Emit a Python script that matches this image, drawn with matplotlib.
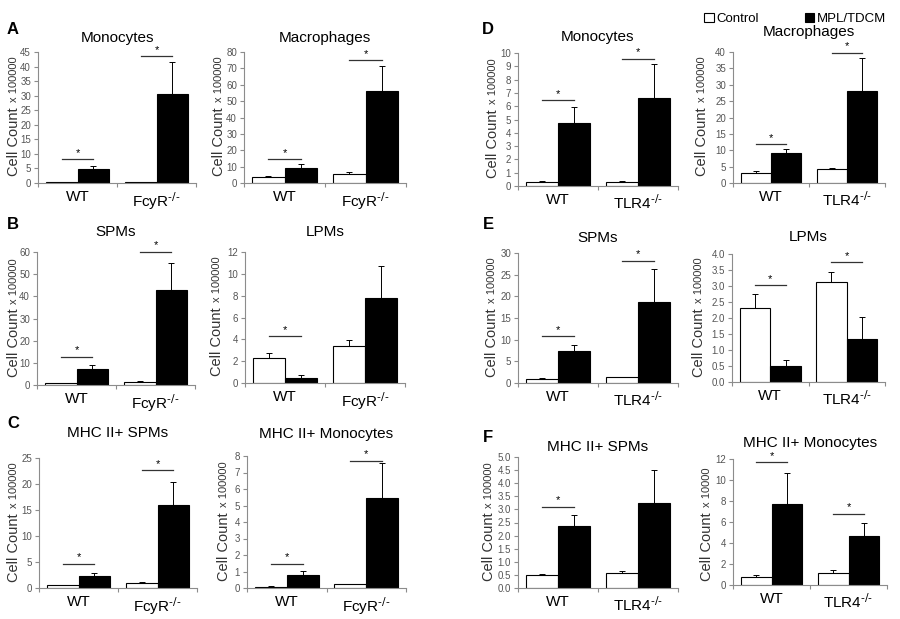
import matplotlib
matplotlib.use("Agg")
import matplotlib.pyplot as plt
import numpy as np

plt.rcParams['font.family'] = ['Liberation Sans', 'DejaVu Sans']

W, H = 900, 619

# panel data: title, genotype, y max, y step, control, control sd, treated, treated sd, significance bars
titles = ['Monocytes', 'Macrophages', 'Monocytes', 'Macrophages',
          'SPMs', 'LPMs', 'SPMs', 'LPMs',
          'MHC II+ SPMs', 'MHC II+ Monocytes', 'MHC II+ SPMs', 'MHC II+ Monocytes']
knockout = ['FcyR', 'FcyR', 'TLR4', 'TLR4'] * 3
y_max = [45, 80, 10, 40, 60, 12, 30, 4.0, 25, 8, 5.0, 12]
y_step = [5, 10, 1, 5, 10, 2, 5, 0.5, 5, 1, 0.5, 2]
units = ['x 100000'] * 11 + ['x 10000']

ctrl = [[0.3, 0.35], [3.7, 5.5], [0.3, 0.3], [3.2, 4.3],
        [0.7, 1.5], [2.3, 3.36], [1.0, 1.3], [2.3, 3.11],
        [0.5, 1.0], [0.07, 0.22], [0.5, 0.58], [0.76, 1.1]]
ctrl_sd = [[0.05, 0.05], [0.6, 1.0], [0.08, 0.08], [0.4, 0.4],
           [0.2, 0.3], [0.45, 0.6], [0.1, 0.15], [0.44, 0.34],
           [0.05, 0.2], [0.03, 0.03], [0.04, 0.06], [0.24, 0.33]]
treat = [[4.7, 30.7], [9.3, 56.0], [4.77, 6.58], [9.2, 28.2],
         [7.2, 43.0], [0.46, 7.8], [7.4, 18.6], [0.5, 1.33],
         [2.36, 15.9], [0.76, 5.43], [2.36, 3.23], [7.7, 4.68]]
treat_sd = [[1.3, 10.7], [2.1, 15.7], [1.2, 2.6], [1.3, 10.0],
            [1.7, 12.0], [0.24, 2.9], [1.3, 7.7], [0.18, 0.71],
            [0.5, 4.5], [0.3, 2.17], [0.42, 1.26], [2.97, 1.22]]
sig = [[8.1, 43.5], [14.4, 75.0], [6.43, 9.57], [11.8, 39.8],
       [12.8, 60.0], [4.27, None], [10.8, 28.2], [3.02, 3.74],
       [4.6, 22.6], [1.45, 7.7], [3.1, None], [11.7, 6.78]]

# layout in pixels: left, right, top, bottom of each axes
boxes = [(38, 196, 52, 183), (244, 406, 52, 183), (518, 678, 53, 186), (733, 885, 52, 183),
         (37, 195, 252, 385), (245, 405, 252, 383), (518, 678, 253, 383), (732, 885, 254, 382),
         (39, 197, 458, 588), (247, 406, 456, 588), (518, 678, 457, 588), (733, 887, 459, 585)]
title_y = [38, 38, 37, 32, 232, 232, 238, 237, 433, 434, 447, 443]
ylab_x = [14, 219, 493, 702, 14, 217, 492, 699, 14, 224, 489, 707]
letters = [('A', 7, 30), ('B', 7, 225), ('C', 7, 423), ('D', 482, 30), ('E', 483, 225), ('F', 483, 437)]

axis_col = '#8c8c8c'
fig = plt.figure(figsize=(W / 100, H / 100), dpi=100)

for i in range(12):
    l, r, t, b = boxes[i]
    ax = fig.add_axes([l / W, 1 - b / H, (r - l) / W, (b - t) / H])
    x = np.arange(2) + 0.5
    bc = ax.bar(x - 0.2, ctrl[i], 0.4, color='white', edgecolor='black', linewidth=0.8, zorder=2)
    bt = ax.bar(x + 0.2, treat[i], 0.4, color='black', edgecolor='black', linewidth=0.8, zorder=2)
    ax.errorbar(x - 0.2, ctrl[i], yerr=[np.zeros(2), ctrl_sd[i]], fmt='none',
                ecolor='black', elinewidth=0.7, capsize=2, capthick=0.7, zorder=1)
    ax.errorbar(x + 0.2, treat[i], yerr=[np.zeros(2), treat_sd[i]], fmt='none',
                ecolor='black', elinewidth=0.7, capsize=2, capthick=0.7, zorder=1)
    for g in range(2):
        h = sig[i][g]
        if h is None:
            continue
        ax.plot([x[g] - 0.2, x[g] + 0.2], [h, h], color='#333333', lw=0.9, clip_on=False)
        ax.text(x[g], h + y_max[i] * 0.012, '*', ha='center', va='bottom', fontsize=8, clip_on=False)
    ax.set_xlim(0, 2)
    ax.set_ylim(0, y_max[i])
    ticks = np.arange(0, y_max[i] + y_step[i] / 2, y_step[i])
    ax.set_yticks(ticks)
    if y_step[i] < 1:
        ax.set_yticklabels(['%.1f' % v for v in ticks])
    ax.set_xticks([0, 1, 2])
    ax.set_xticklabels([])
    ax.set_xticks(x, minor=True)
    ax.set_xticklabels(['WT', knockout[i] + r'$^{\text{-/-}}$'], minor=True, fontsize=11)
    ax.tick_params(axis='x', which='minor', length=0, pad=5)
    ax.tick_params(axis='x', which='major', length=3, color=axis_col, width=0.8)
    ax.tick_params(axis='y', length=3, color=axis_col, width=0.8, labelsize=7,
                   labelcolor='#555555', pad=2)
    for s in ['top', 'right']:
        ax.spines[s].set_visible(False)
    for s in ['left', 'bottom']:
        ax.spines[s].set_color(axis_col)
        ax.spines[s].set_linewidth(0.8)
    fig.text((l + r) / 2 / W, 1 - title_y[i] / H, titles[i], ha='center', va='center', fontsize=11)
    split = (t + b) / 2 - 10
    fig.text(ylab_x[i] / W, 1 - split / H, 'Cell Count', rotation=90, rotation_mode='anchor',
             ha='right', va='center', fontsize=10.5, color='#333333')
    fig.text(ylab_x[i] / W, 1 - (split - 5) / H, units[i], rotation=90, rotation_mode='anchor',
             ha='left', va='center', fontsize=8, color='#333333')
    if i == 3:
        handles = [bc, bt]

for s, px, py in letters:
    fig.text(px / W, 1 - py / H, s, fontsize=12, fontweight='bold', ha='left', va='center')

fig.legend(handles, ['Control', 'MPL/TDCM'], loc='upper right', bbox_to_anchor=(898 / W, 1 - 1 / H),
           ncol=2, frameon=False, fontsize=9.5, handlelength=0.7, handleheight=0.7,
           handletextpad=0.2, columnspacing=3.5)

fig.savefig('out.png', dpi=100)
